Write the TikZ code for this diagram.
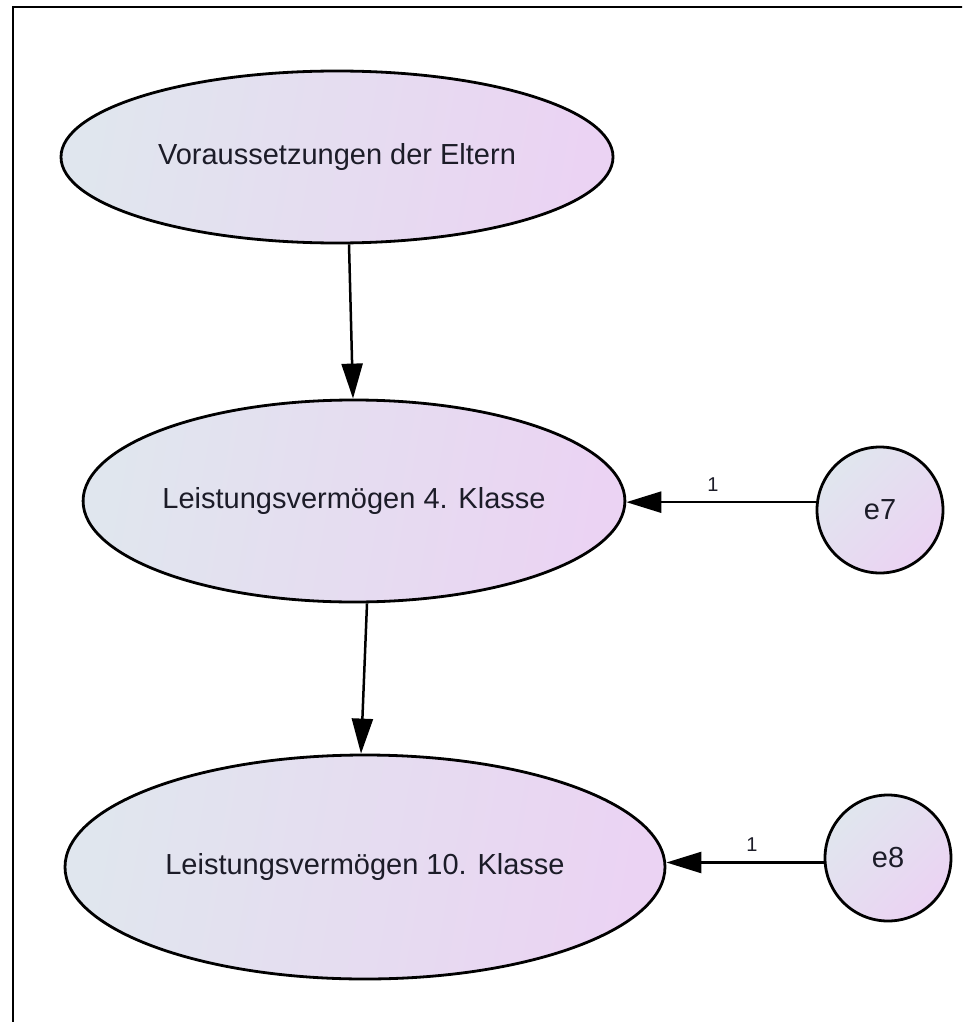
\documentclass[tikz,border=0pt]{standalone}
\usepackage{fontspec}
\setmainfont{Liberation Sans}
\usetikzlibrary{shapes.geometric,arrows.meta}
\definecolor{fillA}{RGB}{224,230,238}
\definecolor{fillB}{RGB}{235,211,243}
\definecolor{inkC}{RGB}{28,28,40}
\tikzset{
  latent/.style={ellipse, draw=black, line width=2.8pt, inner sep=0pt,
    left color=fillA, right color=fillB, shading angle=80,
    font=\fontsize{29}{34}\selectfont, text=inkC},
  errc/.style={circle, draw=black, line width=2.8pt, inner sep=0pt,
    minimum size=126pt, left color=fillA, right color=fillB, shading angle=45,
    font=\fontsize{29}{34}\selectfont, text=inkC},
  arr/.style={line width=2.5pt, -{Triangle[length=35pt,width=21pt]}},
  wlabel/.style={font=\fontsize{20}{24}\selectfont, text=inkC, inner sep=0pt}
}
\begin{document}
\begin{tikzpicture}[x=1pt,y=-1pt]
  \useasboundingbox (0,0) rectangle (962,1022);
  % outer frame, open to the right and bottom
  \begin{scope}
    \clip (0,0) rectangle (962,1022);
    \draw[line width=2.8pt] (13,1040) -- (13,7) -- (980,7);
  \end{scope}

  \node[latent, minimum width=552pt, minimum height=172pt] (V) at (337,157) {Voraussetzungen der Eltern};
  \node[latent, minimum width=536pt, minimum height=202pt] (L4) at (354,501) {Leistungsvermögen 4. Klasse};
  \node[latent, minimum width=600pt, minimum height=224pt] (L10) at (365,867) {Leistungsvermögen 10. Klasse};
  \node[errc] (e7) at (880,510) {e7};
  \node[errc] (e8) at (888,858) {e8};

  \draw[arr] ([xshift=12pt]V.south) -- ([xshift=-1pt]L4.north);
  \draw[arr] ([xshift=13pt]L4.south) -- ([xshift=-4pt]L10.north);
  \draw[arr] (e7.173) -- (e7.173 -| L4.east);
  \draw[arr] (e8.184) -- (e8.184 -| L10.east);

  \node[wlabel] (w7) at (713,485) {1};
  \node[wlabel] (w8) at (752,845) {1};
\end{tikzpicture}
\end{document}
